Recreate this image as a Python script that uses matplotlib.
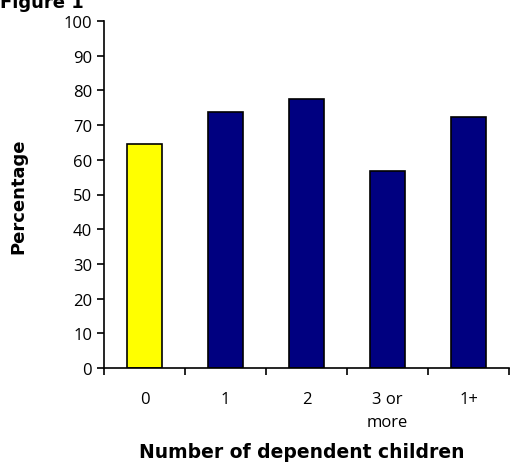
import matplotlib.pyplot as plt
import numpy as np

categories = ["0", "1", "2", "3 or\nmore", "1+"]
values = [64.5, 73.7, 77.6, 56.8, 72.2]
colors = ["#ffff00", "#000080", "#000080", "#000080", "#000080"]

plt.rcParams['font.family'] = ['Open Sans', 'DejaVu Sans']
fig = plt.figure(figsize=(5.12, 4.64), dpi=100)
ax = fig.add_axes([104/512, 1 - 369/464, 405/512, 347/464])

x = np.arange(len(categories))
ax.bar(x, values, width=0.44, color=colors, edgecolor="black", linewidth=1.2)
ax.set_xlim(-0.5, 4.5)
ax.set_ylim(0, 100)
ax.set_yticks(range(0, 101, 10))
ax.set_xticks(np.arange(-0.5, 4.6, 1))
ax.set_xticklabels([])
ax.tick_params(axis="both", direction="out", length=5, width=1.2, labelsize=12)
for xi, lab in zip(x, categories):
    ax.text(xi, -6.5, lab, ha="center", va="top", fontsize=12,
            transform=ax.transData, linespacing=1.6)
for s in ["top", "right"]:
    ax.spines[s].set_visible(False)
for s in ["left", "bottom"]:
    ax.spines[s].set_linewidth(1.2)
fig.text(18/512, 1 - 196/464, "Percentage", rotation=90, ha="center", va="center",
         fontsize=13, fontweight="bold", family="DejaVu Sans")
fig.text(0.59, 0.004, "Number of dependent children", ha="center", va="bottom",
         fontsize=13.5, fontweight="bold", family="DejaVu Sans")
fig.text(0.0, 0.993, "Figure 1", ha="left", va="center", fontsize=13,
         fontweight="bold", family="DejaVu Sans")
fig.savefig("out.png", dpi=100)
